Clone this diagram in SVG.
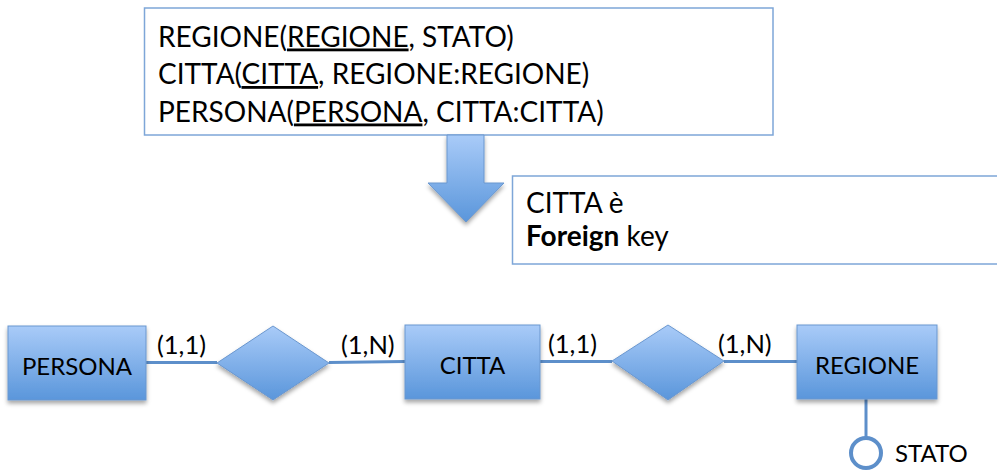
<svg xmlns="http://www.w3.org/2000/svg" width="997" height="473" viewBox="0 0 997 473">
  <style>
    text { font-family: Lato, "Liberation Sans", sans-serif; fill: #000; }
    .note { fill: #fff; stroke: #7ea6d8; stroke-width: 1.5; }
    .lbl { font-size: 24px; }
    .card { font-size: 25.5px; }
    .big { font-size: 28px; }
    .shape { fill: url(#blueGrad); stroke: #6a97cf; stroke-width: 1; filter: url(#shadow); }
    .link { stroke: #5d8fca; stroke-width: 3; fill: none; }
    .u { text-decoration: underline; }
  </style>
  <defs>
    <linearGradient id="blueGrad" x1="0" y1="0" x2="0" y2="1">
      <stop offset="0" stop-color="#a9cbf8"/>
      <stop offset="1" stop-color="#5a96db"/>
    </linearGradient>
    <filter id="shadow" x="-20%" y="-20%" width="140%" height="150%">
      <feDropShadow dx="0" dy="3" stdDeviation="2" flood-color="#000" flood-opacity="0.35"/>
    </filter>
  </defs>

  <!-- relational schema -->
  <g id="schema">
    <rect class="note" x="144.5" y="8" width="628.5" height="127"/>
    <text class="big" x="158" y="46.5">REGIONE(<tspan class="u">REGIONE</tspan>, STATO)</text>
    <text class="big" x="158" y="84">CITTA(<tspan class="u">CITTA</tspan>, REGIONE:REGIONE)</text>
    <text class="big" x="158" y="121.5">PERSONA(<tspan class="u">PERSONA</tspan>, CITTA:CITTA)</text>
  </g>

  <!-- down arrow -->
  <g id="arrow">
    <path class="shape" d="M447 135 H484 V183 H504 L466 222 L428 183 H447 Z"/>
  </g>

  <!-- foreign key note -->
  <g id="fk-note">
    <rect class="note" x="512.5" y="176" width="500" height="88"/>
    <text class="big" x="526" y="213">CITTA è</text>
    <text class="big" x="526" y="245.5"><tspan font-weight="bold">Foreign</tspan> key</text>
  </g>

  <!-- connectors -->
  <g id="connectors">
    <line class="link" x1="146" y1="362.5" x2="217" y2="362.5"/>
    <line class="link" x1="329" y1="362.5" x2="405" y2="361.5"/>
    <line class="link" x1="540" y1="361.5" x2="612" y2="361.5"/>
    <line class="link" x1="724" y1="361.5" x2="797" y2="361.5"/>
    <line class="link" x1="866" y1="399" x2="866" y2="438"/>
    <text class="card" x="157" y="354">(1,1)</text>
    <text class="card" x="341" y="354">(1,N)</text>
    <text class="card" x="548" y="353">(1,1)</text>
    <text class="card" x="718" y="353">(1,N)</text>
  </g>

  <!-- entities -->
  <g id="persona">
    <rect class="shape" x="8" y="326" width="138" height="74"/>
    <text class="lbl" x="77" y="375" text-anchor="middle">PERSONA</text>
  </g>
  <g id="citta">
    <rect class="shape" x="405" y="325" width="135" height="74"/>
    <text class="lbl" x="472.5" y="374" text-anchor="middle">CITTA</text>
  </g>
  <g id="regione">
    <rect class="shape" x="797" y="325" width="140" height="74"/>
    <text class="lbl" x="867" y="374" text-anchor="middle">REGIONE</text>
  </g>

  <!-- relationships -->
  <g id="rel-persona-citta">
    <path class="shape" d="M217 363 L273 326 L329 363 L273 400 Z"/>
  </g>
  <g id="rel-citta-regione">
    <path class="shape" d="M612 361 L668 325 L724 361 L668 400 Z"/>
  </g>

  <!-- attribute -->
  <g id="stato">
    <circle cx="866" cy="453" r="15" fill="#fff" stroke="#5d8fca" stroke-width="4"/>
    <text class="lbl" x="895" y="462">STATO</text>
  </g>
</svg>
